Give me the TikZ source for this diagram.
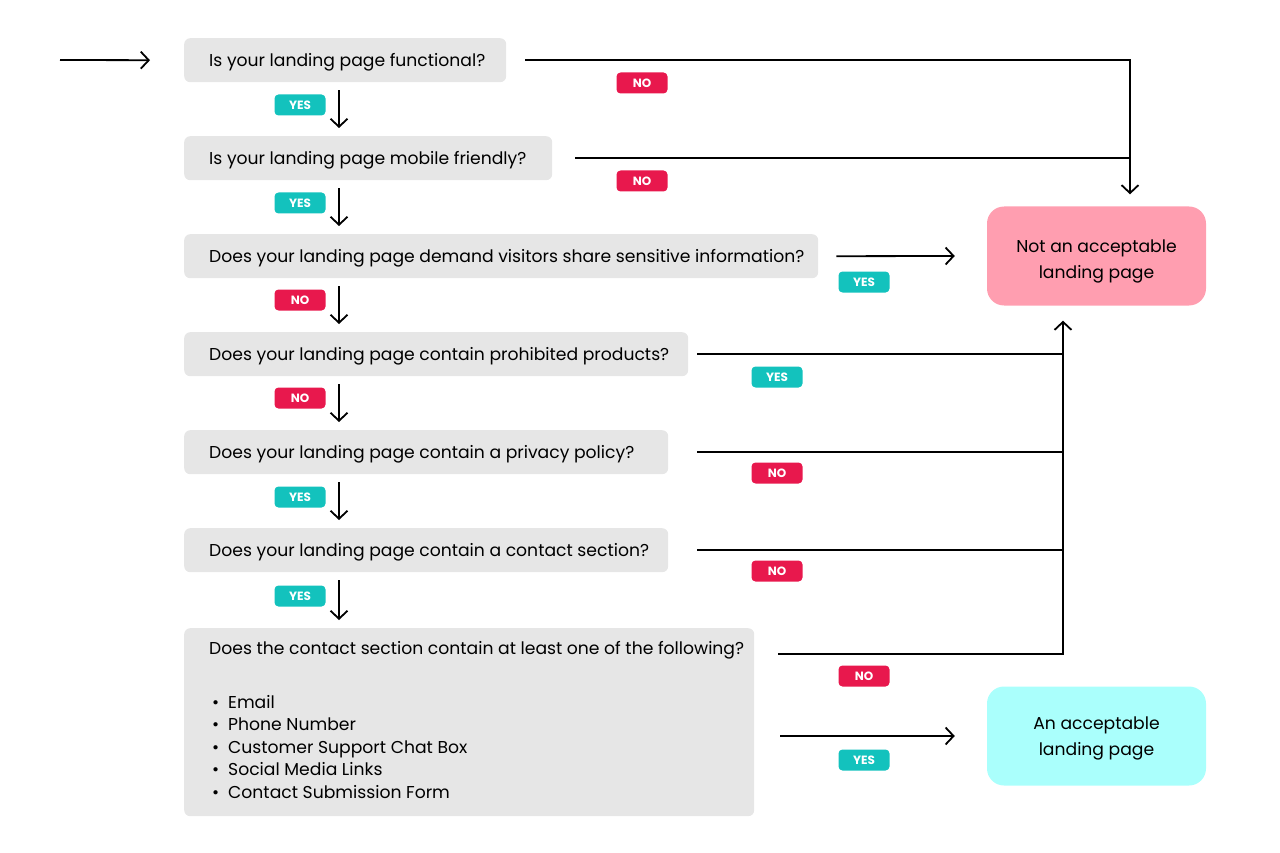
\documentclass[tikz,border=0pt]{standalone}
\usepackage{fontspec}
\setmainfont{Poppins}
\usetikzlibrary{arrows.meta,positioning}
\definecolor{boxgray}{HTML}{E6E6E6}
\definecolor{nored}{HTML}{E8184D}
\definecolor{yesteal}{HTML}{13C2BD}
\definecolor{badpink}{HTML}{FF9EB0}
\definecolor{goodcyan}{HTML}{AAFFFC}
\tikzset{
  qbox/.style={fill=boxgray, rounded corners=6pt, minimum height=44pt, anchor=north west, inner sep=0pt},
  qtext/.style={anchor=base west, inner sep=0pt, font=\fontsize{17.2}{22.5}\selectfont},
  endbox/.style={rounded corners=17pt, minimum width=219pt, minimum height=99pt, inner sep=0pt},
  endtext/.style={align=center, inner sep=0pt, font=\fontsize{17.2}{26}\selectfont},
  tag/.style={rounded corners=4pt, minimum width=51pt, minimum height=21pt, inner sep=0pt, text=white, font=\fontsize{12}{12}\selectfont\bfseries},
  tagyes/.style={tag, fill=yesteal},
  tagno/.style={tag, fill=nored},
  line/.style={line width=1.8pt},
  arr/.style={line, -{Straight Barb[length=8pt,width=17pt]}}
}
\begin{document}
\begin{tikzpicture}[x=1pt, y=-1pt]
  \useasboundingbox (0,0) rectangle (1280,853);

  % question boxes
  \node[qbox, minimum width=322pt] (q1) at (184,38) {};
  \node[qbox, minimum width=368pt] (q2) at (184,136) {};
  \node[qbox, minimum width=634pt] (q3) at (184,234) {};
  \node[qbox, minimum width=504pt] (q4) at (184,332) {};
  \node[qbox, minimum width=484pt] (q5) at (184,430) {};
  \node[qbox, minimum width=484pt] (q6) at (184,528) {};
  \node[qbox, minimum width=570pt, minimum height=188pt] (q7) at (184,628) {};

  \node[qtext] (t1) at ([xshift=25pt,yshift=-6.5pt]q1.west) {Is your landing page functional?};
  \node[qtext] (t2) at ([xshift=25pt,yshift=-6.5pt]q2.west) {Is your landing page mobile friendly?};
  \node[qtext] (t3) at ([xshift=25pt,yshift=-6.5pt]q3.west) {Does your landing page demand visitors share sensitive information?};
  \node[qtext] (t4) at ([xshift=25pt,yshift=-6.5pt]q4.west) {Does your landing page contain prohibited products?};
  \node[qtext] (t5) at ([xshift=25pt,yshift=-6.5pt]q5.west) {Does your landing page contain a privacy policy?};
  \node[qtext] (t6) at ([xshift=25pt,yshift=-6.5pt]q6.west) {Does your landing page contain a contact section?};
  \node[qtext] (t7) at ([xshift=25pt,yshift=-26.5pt]q7.north west) {Does the contact section contain at least one of the following?};
  \node[qtext, anchor=north west, align=left] (t7list) at ([xshift=28pt,yshift=-67pt]q7.north west)
    {\makebox[16pt][l]{\textbullet}Email\\
     \makebox[16pt][l]{\textbullet}Phone Number\\
     \makebox[16pt][l]{\textbullet}Customer Support Chat Box\\
     \makebox[16pt][l]{\textbullet}Social Media Links\\
     \makebox[16pt][l]{\textbullet}Contact Submission Form};

  % outcomes
  \node[endbox, fill=badpink] (bad) at (1096.5,256) {};
  \node[endbox, fill=goodcyan] (good) at (1096.5,736) {};
  \node[endtext] (badtext) at ([yshift=-5pt]bad.center) {Not an acceptable\\landing page};
  \node[endtext] (goodtext) at ([yshift=-2pt]good.center) {An acceptable\\landing page};

  \coordinate (start) at (60,60);
  \coordinate (jtop) at ([xshift=33.5pt]bad.north);
  \coordinate (jbot) at ([xshift=-33.5pt,yshift=-15pt]bad.south);

  % main path
  \draw[arr] (start) -- ([xshift=-34pt]q1.west);
  \draw[arr] ([xshift=155pt,yshift=-8pt]q1.south west) -- ([xshift=155pt,yshift=8pt]q2.north west);
  \draw[arr] ([xshift=155pt,yshift=-8pt]q2.south west) -- ([xshift=155pt,yshift=8pt]q3.north west);
  \draw[arr] ([xshift=155pt,yshift=-8pt]q3.south west) -- ([xshift=155pt,yshift=8pt]q4.north west);
  \draw[arr] ([xshift=155pt,yshift=-8pt]q4.south west) -- ([xshift=155pt,yshift=8pt]q5.north west);
  \draw[arr] ([xshift=155pt,yshift=-8pt]q5.south west) -- ([xshift=155pt,yshift=8pt]q6.north west);
  \draw[arr] ([xshift=155pt,yshift=-8pt]q6.south west) -- ([xshift=155pt,yshift=8pt]q7.north west);

  % exits
  \draw[arr] ([xshift=19pt]q1.east) -| ([yshift=12pt]jtop);
  \draw[line] ([xshift=23pt]q2.east) -- (q2.east -| jtop);
  \draw[arr] ([xshift=18pt]q3.east) -- ([xshift=-32pt]bad.west);
  \draw[line] ([xshift=9pt]q4.east) -- (q4.east -| jbot);
  \draw[line] ([xshift=29pt]q5.east) -- (q5.east -| jbot);
  \draw[line] ([xshift=29pt]q6.east) -- (q6.east -| jbot);
  \draw[arr] ([xshift=24pt,yshift=-26pt]q7.north east) -| (jbot);
  \draw[arr] ([xshift=26pt]q7.east |- good.west) -- ([xshift=-32pt]good.west);

  % labels
  \node[tagyes] (y1) at (300,105) {YES};
  \node[tagno] (n1) at (642,83) {NO};
  \node[tagyes] (y2) at (300,203) {YES};
  \node[tagno] (n2) at (642,181) {NO};
  \node[tagno] (n3) at (300,300) {NO};
  \node[tagyes] (y3) at (864,282) {YES};
  \node[tagno] (n4) at (300,398) {NO};
  \node[tagyes] (y4) at (777,377) {YES};
  \node[tagyes] (y5) at (300,497) {YES};
  \node[tagno] (n5) at (777,473) {NO};
  \node[tagyes] (y6) at (300,596) {YES};
  \node[tagno] (n6) at (777,571) {NO};
  \node[tagno] (n7) at (864,676) {NO};
  \node[tagyes] (y7) at (864,760) {YES};
\end{tikzpicture}
\end{document}
